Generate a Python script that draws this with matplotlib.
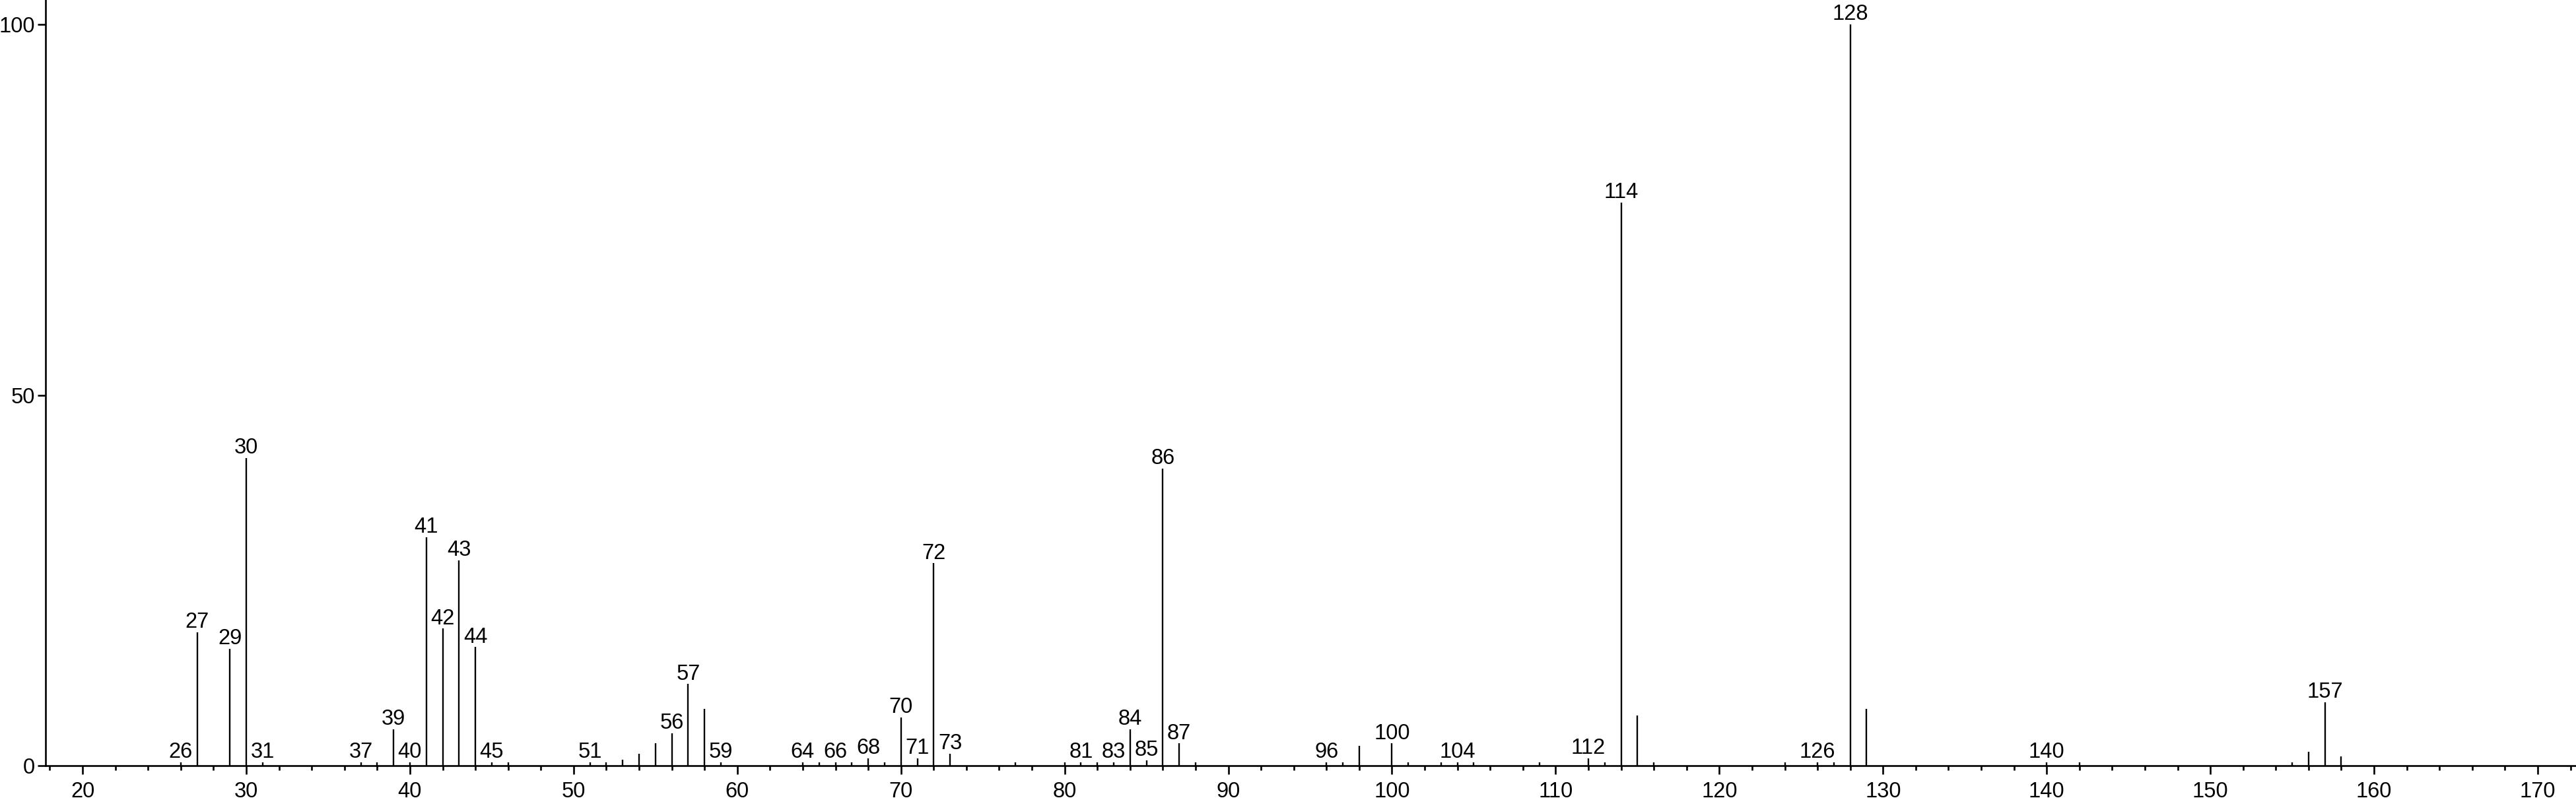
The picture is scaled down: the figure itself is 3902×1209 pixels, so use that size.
import matplotlib
matplotlib.use("Agg")
import matplotlib.pyplot as plt
from matplotlib.ticker import MultipleLocator

plt.rcParams['font.family'] = ['Liberation Sans', 'DejaVu Sans']

# m/z values and relative intensities
mz = [26, 27, 29, 30, 31, 37, 38, 39, 40, 41, 42, 43, 44, 45, 46,
      51, 52, 53, 54, 55, 56, 57, 58, 59,
      64, 65, 66, 67, 68, 69, 70, 71, 72, 73, 77,
      80, 81, 82, 83, 84, 85, 86, 87, 88,
      96, 97, 98, 100, 101, 103, 104, 105, 109,
      112, 113, 114, 115, 116, 124, 126, 127, 128, 129,
      140, 142, 155, 156, 157, 158]
intensity = [0.45, 18.0, 15.8, 41.5, 0.45, 0.45, 0.45, 4.9, 0.45, 30.8, 18.5, 27.7, 16.0, 0.45, 0.45,
             0.45, 0.45, 0.8, 1.6, 3.0, 4.4, 11.0, 7.7, 0.45,
             0.45, 0.45, 0.45, 0.45, 1.0, 0.45, 6.5, 1.0, 27.3, 1.6, 0.45,
             0.45, 0.45, 0.45, 0.45, 4.9, 0.75, 40.1, 3.0, 0.45,
             0.45, 0.45, 2.7, 3.0, 0.45, 0.45, 0.45, 0.45, 0.45,
             1.0, 0.45, 76.0, 6.8, 0.45, 0.45, 0.45, 0.45, 100.0, 7.7,
             0.45, 0.45, 0.45, 1.9, 8.55, 1.25]

# peaks that carry a text label
labelled = [26, 27, 29, 30, 31, 37, 39, 40, 41, 42, 43, 44, 45, 51, 56, 57, 59,
            64, 66, 68, 70, 71, 72, 73, 81, 83, 84, 85, 86, 87,
            96, 100, 104, 112, 114, 126, 128, 140, 157]

fs = 23.5
fig = plt.figure(figsize=(39.02, 12.09), dpi=100)
ax = fig.add_axes([69.3 / 3902, 49 / 1209, 1 - 69.3 / 3902, 1 - 49 / 1209])

ax.vlines(mz, 0, intensity, color='black', linewidth=1.7)

for m, h in zip(mz, intensity):
    if m in labelled:
        ax.annotate(str(m), xy=(m, h), xytext=(0, 4.8), textcoords='offset points',
                    ha='center', va='baseline', fontsize=fs, color='black')

ax.set_xlim(17.75, 172.34)
ax.set_ylim(0, 103.3)

ax.xaxis.set_major_locator(MultipleLocator(10))
ax.xaxis.set_minor_locator(MultipleLocator(2))
ax.set_yticks([0, 50, 100])

for side in ['top', 'right']:
    ax.spines[side].set_visible(False)
for side in ['left', 'bottom']:
    ax.spines[side].set_linewidth(1.9)
    ax.spines[side].set_color('black')

ax.tick_params(axis='x', which='major', direction='out', length=9.6, width=1.9,
               pad=8, labelsize=fs)
ax.tick_params(axis='x', which='minor', direction='out', length=4.8, width=1.9)
ax.tick_params(axis='y', which='major', direction='out', length=8.6, width=1.9,
               pad=3, labelsize=fs)

fig.savefig('out.png', dpi=100)
